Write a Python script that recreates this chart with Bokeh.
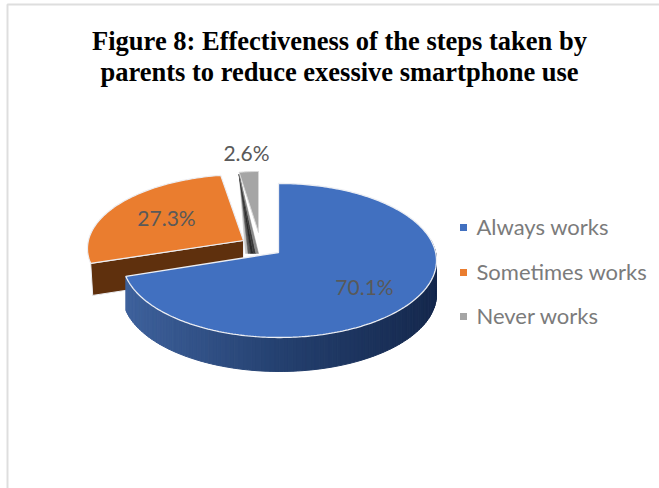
import numpy as np
from bokeh.plotting import figure
from bokeh.models import Range1d
from bokeh.core.properties import value
from bokeh.embed import file_html
from bokeh.resources import INLINE

title_lines = ["Figure 8: Effectiveness of the steps taken by",
               "parents to reduce exessive smartphone use"]
categories = ["Always works", "Sometimes works", "Never works"]
shares = [70.1, 27.3, 2.6]
top_colors = ["#4170c0", "#ea7d2f", "#a5a5a5"]
side_colors = ["#24406f", "#5f300d", "#333333"]
needle_shades = ["#c4c4c4", "#5a5a5a", "#2a2a2a", "#3a3a3a", "#8a8a8a"]
label_color = "#595959"
legend_color = "#7b7b7b"

W, H = 659, 488
p = figure(width=W, height=H, output_backend="svg", toolbar_location=None,
           x_range=Range1d(0, W), y_range=Range1d(H, 0),
           min_border=0, outline_line_color=None, background_fill_color="white")
p.axis.visible = False
p.grid.visible = False

DEPTH = 34
A, B = 157, 77
OFF_X, OFF_Y = 1, 8


def rim(theta_deg, apex, a=A, b=B):
    """Point on the tilted rim along angle theta (clockwise from 12 o'clock), cast from the apex."""
    th = np.radians(theta_deg)
    ax, ay = apex
    cx, cy = ax + OFF_X, ay + OFF_Y
    dx, dy = a * np.sin(th), -b * np.cos(th)
    ex, ey = (ax - cx) / a, (ay - cy) / b
    ux, uy = dx / a, dy / b
    qa = ux * ux + uy * uy
    qb = 2 * (ex * ux + ey * uy)
    qc = ex * ex + ey * ey - 1
    k = (-qb + np.sqrt(qb * qb - 4 * qa * qc)) / (2 * qa)
    return ax + k * dx, ay + k * dy


def arc(t0, t1, apex, a=A, b=B, step=1.0):
    ts = np.linspace(t0, t1, max(2, int(abs(t1 - t0) / step) + 1))
    pts = [rim(t, apex, a, b) for t in ts]
    return [q[0] for q in pts], [q[1] for q in pts]


def mix(c0, c1, f):
    c0 = [int(c0[i:i + 2], 16) for i in (1, 3, 5)]
    c1 = [int(c1[i:i + 2], 16) for i in (1, 3, 5)]
    return "#%02x%02x%02x" % tuple(int(round(x + (y - x) * f)) for x, y in zip(c0, c1))


ends = np.cumsum(shares) / sum(shares) * 360
blue_end, orange_end = ends[0], ends[1]
apex_blue = (278, 252)
apex_orange = (243, 240)
apex_gray = (258, 232)
edge = "#eceef3"

# Orange slice: cut face, then top
ox, oy = rim(blue_end, apex_orange, A, 74)
p.patch([apex_orange[0], ox, ox + 2, apex_orange[0]],
        [apex_orange[1], oy, oy + DEPTH - 2, apex_orange[1] + DEPTH - 2],
        fill_color=side_colors[1], line_color=edge, line_width=1)
xs, ys = arc(blue_end, orange_end, apex_orange, A, 74)
p.patch([apex_orange[0]] + xs, [apex_orange[1]] + ys,
        fill_color=top_colors[1], line_color=edge, line_width=1.2)

# Gray slice: shaded needle as a fan from the outer corner, then top
gx, gy = rim(orange_end, apex_gray, 135, 69)
foot = [apex_gray[0] - 13 + 13 * i / len(needle_shades) for i in range(len(needle_shades) + 1)]
low_y = apex_gray[1] + 21
p.patches([[gx, foot[i], foot[i + 1]] for i in range(len(needle_shades))],
          [[gy + 2, low_y, low_y] for _ in needle_shades],
          fill_color=needle_shades, line_color=needle_shades, line_width=0.5)
xs, ys = arc(orange_end, 360, apex_gray, 135, 69)
p.patch([apex_gray[0]] + xs, [apex_gray[1]] + ys,
        fill_color=top_colors[2], line_color="#d8d8d8", line_width=1)

# Blue slice: shaded side wall in strips, then top
ax_, ay_ = arc(blue_end, 80, apex_blue, step=1.5)
left, mid, right = "#3e619c", "#24406f", "#15284d"
n = len(ax_) - 1
sx, sy, sc = [], [], []
x_lo, x_hi = min(ax_), max(ax_)
for i in range(n):
    sx.append([ax_[i], ax_[i + 1], ax_[i + 1], ax_[i]])
    sy.append([ay_[i], ay_[i + 1], ay_[i + 1] + DEPTH, ay_[i] + DEPTH])
    f = ((ax_[i] + ax_[i + 1]) / 2 - x_lo) / (x_hi - x_lo)
    c = mix(left, mid, f / 0.5) if f < 0.5 else mix(mid, right, (f - 0.5) / 0.5)
    sc.append(c)
p.patches(sx, sy, fill_color=sc, line_color=sc, line_width=1)
xs, ys = arc(0, blue_end, apex_blue)
p.patch([apex_blue[0]] + xs, [apex_blue[1]] + ys,
        fill_color=top_colors[0], line_color=edge, line_width=1.3)

# Chart border (left and top only are visible)
p.line([7, 7, W], [H, 4, 4], line_color="#dedede", line_width=2)

# Title
p.text([339, 339], [40, 71], text=title_lines, text_font=value("Liberation Serif"),
       text_font_style="bold", text_font_size="26.5px", text_align="center",
       text_baseline="middle", text_color="#000000")

# Data labels
p.text([364, 166, 246], [286, 217, 152], text=["%.1f%%" % s for s in shares],
       text_font=value("Lato"), text_font_size="21px", text_align="center",
       text_baseline="middle", text_color=label_color)

# Legend
leg_y = [226, 271, 315]
p.scatter([463] * 3, [227, 272, 316], marker="square", size=7, fill_color=top_colors, line_color=None)
p.text([476] * 3, leg_y, text=categories, text_font=value("Lato"), text_font_size="22px",
       text_align="left", text_baseline="middle", text_color=legend_color)

open("out.html", "w").write(file_html(p, INLINE))
